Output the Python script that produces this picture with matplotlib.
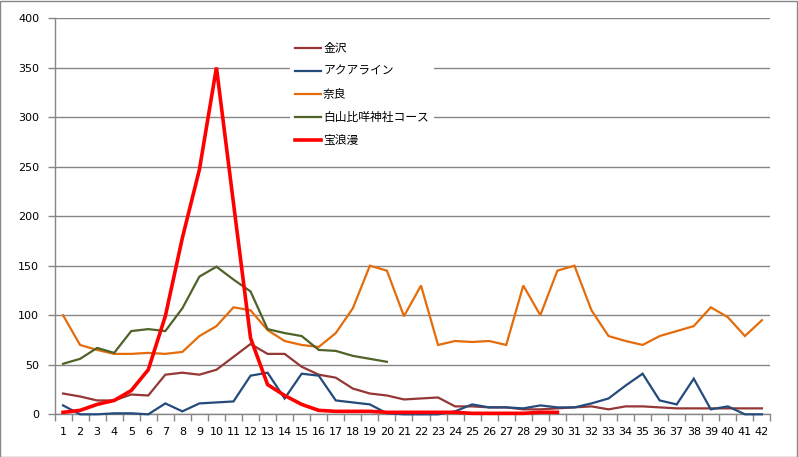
import matplotlib
matplotlib.use("Agg")
import matplotlib.pyplot as plt
from matplotlib.patches import Rectangle

plt.rcParams["font.family"] = ["Noto Sans CJK JP", "DejaVu Sans"]

days = list(range(1, 43))

kanazawa = [21, 18, 14, 14, 20, 19, 40, 42, 40, 45,
            58, 71, 61, 61, 48, 40, 37, 26, 21, 19,
            15, 16, 17, 8, 8, 7, 7, 5, 5, 6,
            7, 8, 5, 8, 8, 7, 6, 6, 6, 6, 6, 6]
aqualine = [9, 0, 0, 1, 1, 0, 11, 3, 11, 12,
            13, 39, 42, 16, 41, 39, 14, 12, 10, 1,
            0, 0, 0, 3, 10, 7, 7, 6, 9, 7,
            7, 11, 16, 29, 41, 14, 10, 36, 5, 8, 0, 0]
nara = [100, 70, 65, 61, 61, 62, 61, 63, 79, 89,
        108, 105, 85, 74, 70, 68, 82, 107, 150, 145,
        99, 130, 70, 74, 73, 74, 70, 130, 100, 145,
        150, 105, 79, 74, 70, 79, 84, 89, 108, 98, 79, 95]
hakusan = [51, 56, 67, 62, 84, 86, 84, 107, 139, 149,
           136, 124, 86, 82, 79, 65, 64, 59, 56, 53]
takararoman = [2, 4, 10, 14, 24, 45, 99, 178, 247, 350,
               213, 77, 30, 19, 10, 4, 3, 3, 3, 2,
               2, 2, 2, 2, 1, 1, 1, 1, 2, 2]

series = [
    ("金沢", kanazawa, "#953735", 1.6),
    ("アクアライン", aqualine, "#254a7c", 1.6),
    ("奈良", nara, "#e46c0a", 1.6),
    ("白山比咩神社コース", hakusan, "#4f6228", 1.6),
    ("宝浪漫", takararoman, "#ff0000", 2.6),
]

fig = plt.figure(figsize=(7.98, 4.57), dpi=100)
ax = fig.add_axes([0.0683, 0.0934, 0.8972, 0.8672])

for name, vals, col, lw in series:
    ax.plot(days[:len(vals)], vals, color=col, linewidth=lw, label=name,
            solid_joinstyle="miter", clip_on=False, zorder=3)

ax.set_xlim(0.5, 42.5)
ax.set_ylim(0, 400)
ax.set_yticks(range(0, 401, 50))
ax.yaxis.grid(True, color="#868686", linewidth=1)
ax.set_axisbelow(True)

ax.set_xticks(days)
ax.set_xticklabels([str(d) for d in days], family="DejaVu Sans")
ax.set_xticks([d + 0.5 for d in [0] + days], minor=True)
ax.tick_params(axis="x", which="major", length=0, pad=9, labelsize=8)
ax.tick_params(axis="x", which="minor", length=5, color="#868686", width=1)
ax.tick_params(axis="y", length=5, color="#868686", width=1, labelsize=8, pad=6)
for lab in ax.get_yticklabels():
    lab.set_family("DejaVu Sans")

for s in ["top", "right"]:
    ax.spines[s].set_visible(False)
for s in ["left", "bottom"]:
    ax.spines[s].set_color("#868686")
    ax.spines[s].set_linewidth(1)
    ax.spines[s].set_zorder(2)

leg = ax.legend(loc="upper left", bbox_to_anchor=(0.329, 0.953), frameon=True,
                fancybox=False, edgecolor="none", facecolor="white", framealpha=1,
                fontsize=8.5, handlelength=2.2, handletextpad=0.15,
                labelspacing=0.85, borderaxespad=0, borderpad=0.45)
leg.set_zorder(5)

fig.patches.append(Rectangle((0.0006, 0.001), 0.9985, 0.997, transform=fig.transFigure,
                             fill=False, edgecolor="#868686", linewidth=1))

fig.savefig("out.png", dpi=100)
